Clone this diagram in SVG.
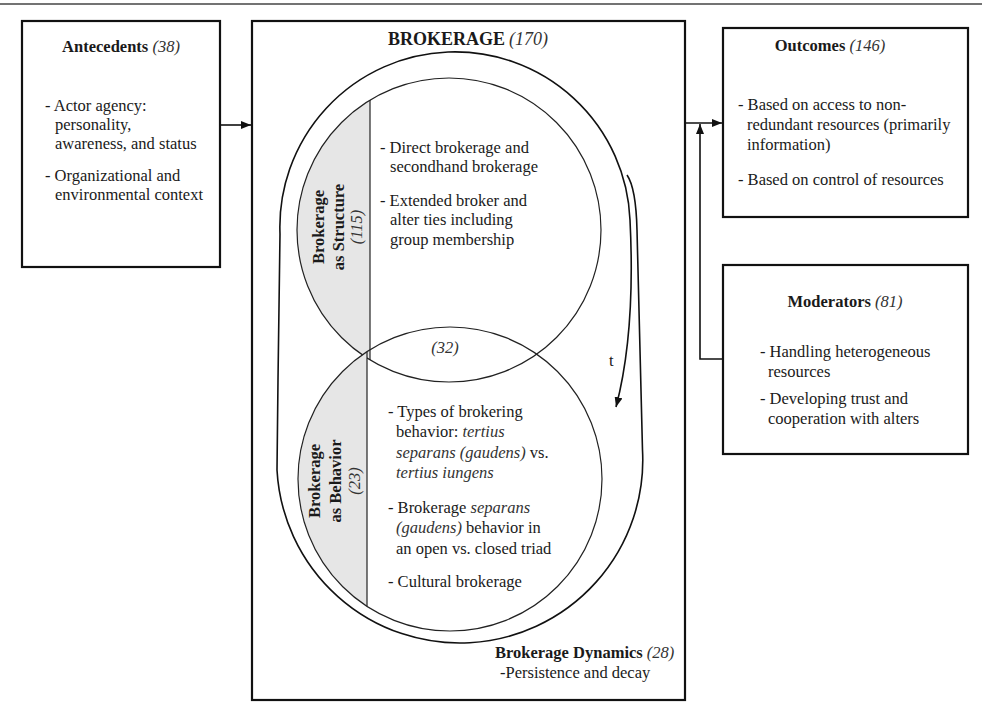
<svg xmlns="http://www.w3.org/2000/svg" width="982" height="715" viewBox="0 0 982 715">
<defs>
<style>
text{font-family:"Liberation Serif","Times New Roman",serif;font-size:16.5px;fill:#1a1a1a}
.b{font-weight:bold}
.i{font-style:italic;fill:#333}
.m{text-anchor:middle}
.box{fill:#fff;stroke:#111;stroke-width:2.2}
.ln{fill:none;stroke:#111;stroke-width:1.6}
.thin{fill:none;stroke:#222;stroke-width:1.2}
.seg{fill:#e6e6e6;stroke:none}
</style>
<marker id="ah" markerWidth="10" markerHeight="8" refX="10" refY="4" orient="auto" markerUnits="userSpaceOnUse">
<path d="M0,0 L10,4 L0,8 Z" fill="#111"/>
</marker>
</defs>
<rect width="982" height="715" fill="#fff"/>
<line x1="0" y1="4" x2="982" y2="4" stroke="#444" stroke-width="1.5"/>

<g id="antecedents">
<rect class="box" x="22" y="21" width="198" height="246"/>
<text class="m" x="121" y="52"><tspan class="b">Antecedents</tspan> <tspan class="i">(38)</tspan></text>
<text x="45" y="111">- Actor agency:</text>
<text x="55" y="130">personality,</text>
<text x="55" y="149">awareness, and status</text>
<text x="45" y="181">- Organizational and</text>
<text x="55" y="200">environmental context</text>
</g>

<g id="brokerage">
<rect class="box" x="252" y="21" width="433" height="679"/>
<text class="m" x="468" y="45"><tspan class="b" style="font-size:18px">BROKERAGE</tspan> <tspan class="i" style="font-size:18px">(170)</tspan></text>
</g>

<g id="brokerage-structure">
<path class="seg" d="M370,100 A152,152 0 0 0 370,360 Z"/>
<circle class="thin" cx="449" cy="230" r="152"/>
<line class="thin" x1="370" y1="100" x2="370" y2="360"/>
<text class="b m" transform="translate(324,227) rotate(-90)">Brokerage</text>
<text class="b m" transform="translate(344,227) rotate(-90)">as Structure</text>
<text class="i m" transform="translate(362,227) rotate(-90)">(115)</text>
<text x="380" y="153">- Direct brokerage and</text>
<text x="390" y="172">secondhand brokerage</text>
<text x="380" y="206">- Extended broker and</text>
<text x="390" y="225">alter ties including</text>
<text x="390" y="245">group membership</text>
</g>

<g id="brokerage-behavior">
<path class="seg" d="M367,352 A152,152 0 0 0 367,606 Z"/>
<circle class="thin" cx="450" cy="479" r="152"/>
<line class="thin" x1="367" y1="352" x2="367" y2="606"/>
<text class="b m" transform="translate(320,481) rotate(-90)">Brokerage</text>
<text class="b m" transform="translate(341,481) rotate(-90)">as Behavior</text>
<text class="i m" transform="translate(360,481) rotate(-90)">(23)</text>
<text x="388" y="417">- Types of brokering</text>
<text x="396" y="437">behavior: <tspan class="i">tertius</tspan></text>
<text x="396" y="458"><tspan class="i">separans (gaudens)</tspan> vs.</text>
<text x="396" y="478"><tspan class="i">tertius iungens</tspan></text>
<text x="388" y="513">- Brokerage <tspan class="i">separans</tspan></text>
<text x="396" y="533"><tspan class="i">(gaudens)</tspan> behavior in</text>
<text x="396" y="554">an open vs. closed triad</text>
<text x="388" y="587">- Cultural brokerage</text>
</g>

<g id="overlap">
<text class="i m" x="445" y="353">(32)</text>
</g>

<g id="brokerage-dynamics">
<path class="ln" d="M627,175 Q636,188 637,230 L642.5,450 A183,183 0 1 1 277,470 L278,380 L280,234"/>
<path class="ln" d="M280,234 A175,175 0 0 1 630,220 C633,280 631,350 616,407" marker-end="url(#ah)"/>
<text x="609" y="366">t</text>
<text x="495" y="658"><tspan class="b">Brokerage Dynamics</tspan> <tspan class="i">(28)</tspan></text>
<text x="500" y="678">-Persistence and decay</text>
</g>

<g id="outcomes">
<rect class="box" x="723" y="28" width="245" height="189"/>
<text class="m" x="830" y="51"><tspan class="b">Outcomes</tspan> <tspan class="i">(146)</tspan></text>
<text x="738" y="110">- Based on access to non-</text>
<text x="747" y="130">redundant resources (primarily</text>
<text x="747" y="150">information)</text>
<text x="738" y="185">- Based on control of resources</text>
</g>

<g id="moderators">
<rect class="box" x="723" y="265" width="245" height="189"/>
<text class="m" x="845" y="307"><tspan class="b">Moderators</tspan> <tspan class="i">(81)</tspan></text>
<text x="760" y="357">- Handling heterogeneous</text>
<text x="768" y="377">resources</text>
<text x="760" y="404">- Developing trust and</text>
<text x="768" y="424">cooperation with alters</text>
</g>

<g id="connectors">
<line class="ln" x1="221" y1="125" x2="251" y2="125" marker-end="url(#ah)"/>
<line class="ln" x1="686" y1="123" x2="722" y2="123" marker-end="url(#ah)"/>
<polyline class="ln" points="722,359 700,359 700,124" marker-end="url(#ah)"/>
</g>
</svg>
